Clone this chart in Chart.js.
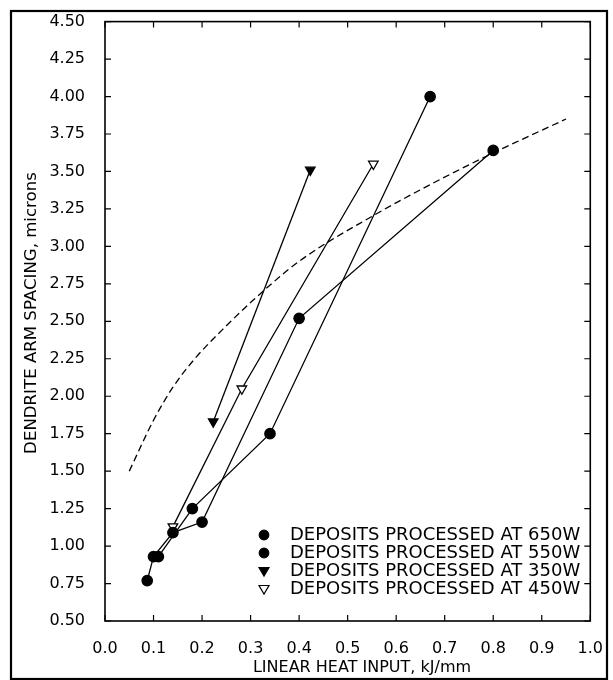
<!DOCTYPE html>
<html>
<head>
<meta charset="utf-8">
<script src="https://cdn.jsdelivr.net/npm/chart.js@4.4.1/dist/chart.umd.min.js"></script>
<style>
  html, body { margin: 0; padding: 0; background: #fff; }
  #wrap { width: 613px; height: 680px; }
</style>
</head>
<body>
<div id="wrap"><canvas id="c"></canvas></div>
<script>
// values
const x650 = [0.087, 0.10, 0.14, 0.20, 0.40, 0.80];
const y650 = [0.77, 0.93, 1.09, 1.16, 2.52, 3.64];
const x550 = [0.11, 0.18, 0.34, 0.67];
const y550 = [0.93, 1.25, 1.75, 4.00];
const x350 = [0.223, 0.423];
const y350 = [1.83, 3.51];
const x450 = [0.14, 0.282, 0.553];
const y450 = [1.13, 2.05, 3.55];
// dashed trend curve
const xFit = [0.05, 0.10, 0.14, 0.185, 0.25, 0.305, 0.40, 0.55, 0.675, 0.785, 0.95];
const yFit = [1.50, 1.84, 2.06, 2.25, 2.47, 2.64, 2.90, 3.20, 3.42, 3.60, 3.85];

const legendLabels = [
  'DEPOSITS PROCESSED AT 650W',
  'DEPOSITS PROCESSED AT 550W',
  'DEPOSITS PROCESSED AT 350W',
  'DEPOSITS PROCESSED AT 450W'
];
const xTitle = 'LINEAR HEAT INPUT, kJ/mm';
const yTitle = 'DENDRITE ARM SPACING, microns';

const pts = (xs, ys) => xs.map((x, i) => ({ x: x, y: ys[i] }));

const series = (label, xs, ys, style, fill) => ({
  label: label,
  data: pts(xs, ys),
  showLine: true,
  borderColor: '#000',
  borderWidth: 1.3,
  pointStyle: style,
  pointRotation: style === 'triangle' ? 180 : 0,
  pointRadius: style === 'triangle' ? 5.5 : 5.2,
  pointBackgroundColor: fill,
  pointBorderColor: '#000',
  pointBorderWidth: 1.3
});

// inward ticks, frame, titles and legend inside the plot
const decor = {
  id: 'decor',
  afterDraw(chart) {
    const ctx = chart.ctx;
    const a = chart.chartArea;
    const { x, y } = chart.scales;
    ctx.save();
    ctx.strokeStyle = '#000';
    ctx.lineWidth = 1.6;
    ctx.strokeRect(a.left, a.top, a.right - a.left, a.bottom - a.top);
    ctx.lineWidth = 1.2;
    ctx.beginPath();
    x.ticks.forEach(t => {
      const px = x.getPixelForValue(t.value);
      ctx.moveTo(px, a.bottom); ctx.lineTo(px, a.bottom - 6);
      ctx.moveTo(px, a.top); ctx.lineTo(px, a.top + 6);
    });
    y.ticks.forEach(t => {
      const py = y.getPixelForValue(t.value);
      ctx.moveTo(a.left, py); ctx.lineTo(a.left + 6, py);
      ctx.moveTo(a.right, py); ctx.lineTo(a.right - 6, py);
    });
    ctx.stroke();

    ctx.fillStyle = '#000';
    ctx.textBaseline = 'middle';
    ctx.textAlign = 'center';
    ctx.font = '16px "DejaVu Sans"';
    ctx.fillText(xTitle, 362, 668);
    ctx.save();
    ctx.translate(32, 313);
    ctx.rotate(-Math.PI / 2);
    ctx.font = '16.6px "DejaVu Sans"';
    ctx.fillText(yTitle, 0, 0);
    ctx.restore();

    // legend
    ctx.textAlign = 'left';
    ctx.font = '18px "DejaVu Sans"';
    const mx = 264, tx = 290, y0 = 535, dy = 18;
    legendLabels.forEach((lab, i) => {
      const ds = chart.data.datasets[i];
      const cy = y0 + i * dy;
      ctx.beginPath();
      if (ds.pointStyle === 'circle') {
        ctx.arc(mx, cy, 4.8, 0, Math.PI * 2);
      } else {
        ctx.moveTo(mx - 5, cy - 3.5);
        ctx.lineTo(mx + 5, cy - 3.5);
        ctx.lineTo(mx, cy + 5);
        ctx.closePath();
      }
      ctx.fillStyle = ds.pointBackgroundColor;
      ctx.fill();
      ctx.lineWidth = 1.2;
      ctx.stroke();
      ctx.fillStyle = '#000';
      ctx.fillText(lab, tx, cy);
    });

    // outer figure frame
    ctx.lineWidth = 2.2;
    ctx.strokeRect(11, 11, 596, 668);
    ctx.restore();
  }
};

new Chart(document.getElementById('c'), {
  type: 'scatter',
  data: {
    datasets: [
      series(legendLabels[0], x650, y650, 'circle', '#000'),
      series(legendLabels[1], x550, y550, 'circle', '#000'),
      series(legendLabels[2], x350, y350, 'triangle', '#000'),
      series(legendLabels[3], x450, y450, 'triangle', '#fff'),
      {
        label: 'fit',
        data: pts(xFit, yFit),
        showLine: true,
        borderColor: '#000',
        borderWidth: 1.3,
        borderDash: [7, 4],
        pointRadius: 0,
        cubicInterpolationMode: 'monotone'
      }
    ]
  },
  options: {
    responsive: true,
    maintainAspectRatio: false,
    animation: false,
    layout: { padding: { top: 17, right: 21, bottom: 0, left: 0 } },
    plugins: {
      legend: { display: false },
      tooltip: { enabled: false }
    },
    scales: {
      x: {
        type: 'linear',
        min: 0, max: 1,
        grid: { display: false },
        border: { display: false },
        ticks: {
          stepSize: 0.1,
          padding: 10,
          color: '#000',
          font: { family: 'DejaVu Sans', size: 16 },
          callback: v => v.toFixed(1)
        },
        afterFit: s => { s.height = 59; }
      },
      y: {
        type: 'linear',
        min: 0.5, max: 4.5,
        grid: { display: false },
        border: { display: false },
        ticks: {
          stepSize: 0.25,
          padding: 12,
          color: '#000',
          font: { family: 'DejaVu Sans', size: 16 },
          callback: v => v.toFixed(2)
        },
        afterFit: s => { s.width = 105; }
      }
    }
  },
  plugins: [decor]
});
</script>
</body>
</html>
